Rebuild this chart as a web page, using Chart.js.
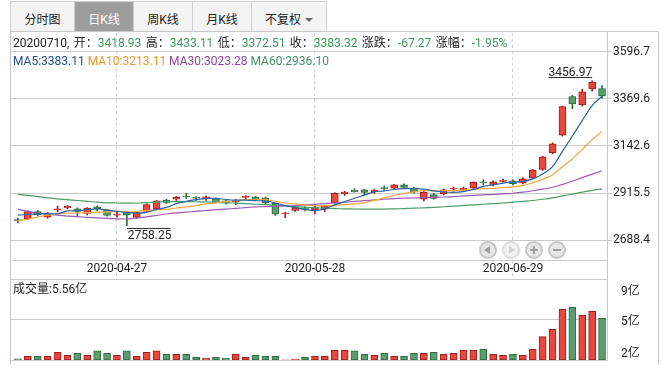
<!DOCTYPE html>
<html>
<head>
<meta charset="utf-8">
<title>上证指数 日K线</title>
<script src="https://cdn.jsdelivr.net/npm/chart.js@4.4.1/dist/chart.umd.min.js"></script>
<style>
  body { margin: 0; background: #fff; font-family: Roboto, "Noto Sans CJK SC", sans-serif; font-size: 12px; color: #222; }
  #wrap { position: relative; width: 668px; height: 377px; overflow: hidden; }
  canvas { position: absolute; left: 0; }
  .tab { position: absolute; top: 1px; height: 30px; line-height: 36px; text-align: center; background: #f4f4f4;
         border-left: 1px solid #cfcfcf; border-top: 1px solid #cfcfcf; box-sizing: border-box; color: #222; overflow: hidden; }
  .tab.on { background: #9d9d9d; color: #fff; }
  .tab.last { border-right: 1px solid #cfcfcf; }
  .caret { display: inline-block; width: 0; height: 0; margin-left: 4px; vertical-align: 2px;
           border-left: 4px solid transparent; border-right: 4px solid transparent; border-top: 4px solid #666; }
  .line { position: absolute; background: #c9c9c9; }
  .row { position: absolute; left: 13px; height: 16px; line-height: 16px; white-space: nowrap; }
  .v { color: #3d9a5e; }
  .btn { position: absolute; top: 241px; width: 18px; height: 18px; border-radius: 50%; box-sizing: border-box;
         border: 2px solid #c6c6c6; background: #e6e6e6; }
  .btn.off { border-color: #dcdcdc; background: #f2f2f2; }
  .btn i { position: absolute; display: block; }
</style>
</head>
<body>
<div id="wrap">
  <div class="tab" style="left:10px;width:64px">分时图</div>
  <div class="tab on" style="left:74px;width:59px">日K线</div>
  <div class="tab" style="left:133px;width:59px">周K线</div>
  <div class="tab" style="left:192px;width:59px">月K线</div>
  <div class="tab last" style="left:251px;width:76px">不复权<span class="caret"></span></div>

  <canvas id="priceChart" width="668" height="249" style="top:31px"></canvas>
  <canvas id="volChart" width="668" height="107" style="top:270px"></canvas>

  <div class="line" style="left:10px;top:31px;width:649px;height:1px"></div>
  <div class="line" style="left:10px;top:31px;width:1px;height:334px"></div>
  <div class="line" style="left:658px;top:31px;width:1px;height:334px"></div>
  <div class="line" style="left:607px;top:31px;width:1px;height:330px"></div>

  <div class="row" style="top:35px;word-spacing:1.4px">20200710, 开：<span class="v">3418.93</span> 高：<span class="v">3433.11</span> 低：<span class="v">3372.51</span> 收：<span class="v">3383.32</span> 涨跌：<span class="v">-67.27</span> 涨幅：<span class="v">-1.95%</span></div>
  <div class="row" style="top:53px"><span style="color:#22508a">MA5:3383.11</span> <span style="color:#e99a32">MA10:3213.11</span> <span style="color:#8a4aa0">MA30:3023.28</span> <span style="color:#3f9163">MA60:2936.10</span></div>
  <div class="row" style="top:281px">成交量:5.56亿</div>

  <div class="btn" style="left:479px"><i style="left:3px;top:3px;border-right:6px solid #9d9d9d;border-top:4px solid transparent;border-bottom:4px solid transparent"></i></div>
  <div class="btn off" style="left:502px"><i style="left:5px;top:3px;border-left:6px solid #d2d2d2;border-top:4px solid transparent;border-bottom:4px solid transparent"></i></div>
  <div class="btn" style="left:525px"><i style="left:3px;top:6px;width:8px;height:2px;background:#9d9d9d"></i><i style="left:6px;top:3px;width:2px;height:8px;background:#9d9d9d"></i></div>
  <div class="btn" style="left:548px"><i style="left:3px;top:6px;width:8px;height:2px;background:#9d9d9d"></i></div>
</div>

<script>
const dates = [
  '2020-04-13','2020-04-14','2020-04-15','2020-04-16','2020-04-17',
  '2020-04-20','2020-04-21','2020-04-22','2020-04-23','2020-04-24',
  '2020-04-27','2020-04-28','2020-04-29','2020-04-30',
  '2020-05-06','2020-05-07','2020-05-08',
  '2020-05-11','2020-05-12','2020-05-13','2020-05-14','2020-05-15',
  '2020-05-18','2020-05-19','2020-05-20','2020-05-21','2020-05-22',
  '2020-05-25','2020-05-26','2020-05-27','2020-05-28','2020-05-29',
  '2020-06-01','2020-06-02','2020-06-03','2020-06-04','2020-06-05',
  '2020-06-08','2020-06-09','2020-06-10','2020-06-11','2020-06-12',
  '2020-06-15','2020-06-16','2020-06-17','2020-06-18','2020-06-19',
  '2020-06-22','2020-06-23','2020-06-24','2020-06-29','2020-06-30',
  '2020-07-01','2020-07-02','2020-07-03',
  '2020-07-06','2020-07-07','2020-07-08','2020-07-09','2020-07-10'
];

const opens = [2788,2793,2827,2800,2835, 2845,2840,2818,2850,2835, 2810,2822,2800,2828,
  2840,2882,2886, 2900,2893,2888,2889,2878, 2873,2895,2897,2893,2866, 2815,2832,2845,2834,2838,
  2868,2912,2930,2932,2923, 2940,2940,2956,2940,2887, 2908,2912,2935,2930,2940,
  2968,2957,2972,2975,2965, 2988,3030,3110, 3195,3380,3340,3418,3418.93];
const highs = [2796,2830,2832,2822,2853, 2856,2845,2846,2855,2838, 2830,2825,2824,2864,
  2880,2886,2900, 2915,2898,2902,2892,2885, 2885,2903,2900,2896,2868, 2824,2848,2850,2862,2856,
  2918,2925,2937,2934,2935, 2950,2958,2960,2945,2925, 2915,2935,2945,2945,2970,
  2980,2975,2983,2980,2990, 3030,3093,3158, 3335,3387,3416,3456.97,3433.11];
const lows = [2772,2790,2805,2795,2825, 2840,2805,2810,2830,2805, 2800,2758.25,2795,2824,
  2836,2866,2880, 2890,2880,2880,2868,2862, 2860,2888,2880,2862,2808, 2797,2828,2830,2815,2828,
  2866,2905,2920,2905,2915, 2930,2935,2940,2915,2878, 2887,2907,2925,2925,2936,
  2955,2950,2968,2955,2960, 2985,3025,3105, 3190,3322,3335,3407,3372.51];
const closes = [2783,2827,2811,2820,2838, 2852,2827,2844,2838,2808, 2815,2810,2822,2860,
  2878,2871,2895, 2897,2891,2898,2870,2868, 2875,2898,2884,2868,2814, 2818,2846,2837,2846,2852,
  2915,2921,2923,2919,2930, 2937,2956,2943,2920,2919, 2890,2931,2936,2939,2967,
  2965,2970,2979,2961,2984.67, 3025.98,3090.57,3152.81, 3332.88,3345.34,3403.44,3450.59,3383.32];

const ma5 = [2810,2813,2816,2817,2816, 2830,2830,2836,2840,2834, 2827,2823,2819,2823,2837,
  2847,2865,2876,2884,2890, 2890,2885,2882,2882,2879, 2878,2868,2856,2846,2837,
  2832,2840,2859,2874,2891, 2906,2922,2926,2933,2937, 2937,2935,2926,2921,2919,
  2923,2933,2948,2955,2964, 2968,2972,2984,3008,3043, 3117,3190,3265,3337,3383.11];
const ma10 = [2782,2790,2800,2810,2816, 2819,2820,2822,2824,2825, 2828,2826,2827,2831,2835,
  2837,2844,2849,2855,2864, 2869,2875,2880,2884,2885, 2884,2876,2868,2864,2858,
  2855,2854,2858,2860,2864, 2869,2881,2893,2904,2914, 2922,2928,2926,2927,2928,
  2930,2934,2937,2938,2942, 2946,2952,2966,2982,3004, 3043,3081,3125,3173,3213.11];
const ma30 = [2837,2828,2820,2814,2809, 2805,2802,2799,2796,2794, 2792,2791,2795,2801,2808,
  2815,2820,2824,2828,2832, 2836,2839,2842,2846,2849, 2851,2853,2854,2856,2859,
  2862,2865,2869,2872,2876, 2879,2883,2886,2889,2891, 2892,2894,2896,2897,2899,
  2902,2905,2907,2909,2912, 2915,2920,2927,2935,2944, 2958,2973,2990,3007,3023.28];
const ma60 = [2910,2905,2899,2893,2888, 2884,2880,2876,2872,2869, 2868,2867,2868,2870,2872,
  2874,2875,2875,2874,2873, 2871,2869,2867,2865,2862, 2860,2857,2854,2851,2848,
  2845,2843,2841,2840,2839, 2839,2839,2839,2840,2841, 2843,2845,2847,2850,2853,
  2856,2859,2862,2865,2868, 2872,2876,2880,2886,2893, 2902,2911,2920,2929,2936.10];

// 成交量，单位：亿
const volumes = [1.70,1.95,1.95,1.95,2.33, 2.05,2.24,2.05,2.46,2.24, 2.05,2.46,1.95,2.33,
  2.46,2.14,2.14, 2.14,1.86,1.76,1.86,1.76, 2.14,1.86,2.05,1.95,1.95, 1.62,1.68,1.86,1.95,1.95,
  2.52,2.52,2.46,2.14,2.05, 2.24,1.95,1.95,2.24,2.24, 2.33,2.14,2.24,2.52,2.52,
  2.61,2.14,2.05,2.14,2.05, 2.61,3.82,4.52, 6.42,6.61,5.85,6.23,5.56];

const priceTicks = [2688.4, 2915.5, 3142.6, 3369.6, 3596.7];
const PRICE_MIN = 2593.5, PRICE_MAX = 3686.8;
const dateTickIndex = [10, 30, 50];
const VOL_MIN = 1.6, VOL_MAX = 9.3;
const volGridTicks = [1.6, 5.45, 9.3];
const volTickValues = [2.17, 5.21, 8.06];
const volTickLabels = ['2亿', '5亿', '9亿'];

const UP_FILL = '#e8473d', UP_EDGE = '#a11d1d';
const DOWN_FILL = '#5c9c6f', DOWN_EDGE = '#2c6b3b';
const GRID = '#c9c9c9', DASH = '#d2d2d2';

Chart.defaults.font.family = 'Roboto, "Noto Sans CJK SC", sans-serif';
Chart.defaults.font.size = 12;
Chart.defaults.color = '#222';

const isUp = closes.map((c, i) => c >= opens[i]);
const fillColors = isUp.map(u => u ? UP_FILL : DOWN_FILL);
const edgeColors = isUp.map(u => u ? UP_EDGE : DOWN_EDGE);

const fixedTicks = values => scale => { scale.ticks = values.map(v => ({ value: v })); };
const fitTo = (w, h) => scale => {
  if (w != null) scale.width = w;
  if (h != null) scale.height = h;
  scale.paddingTop = 0; scale.paddingBottom = 0;
  scale.paddingLeft = 0; scale.paddingRight = 0;
};

function maLine(label, data, color) {
  return { type: 'line', label, data, yAxisID: 'y', borderColor: color, borderWidth: 1.2,
           pointRadius: 0, tension: 0.3, order: 0 };
}

// 最高 / 最低点标注
const extremaLabels = {
  id: 'extremaLabels',
  afterDatasetsDraw(chart) {
    const { ctx, scales: { x, y } } = chart;
    const hi = highs.indexOf(Math.max(...highs));
    const lo = lows.indexOf(Math.min(...lows));
    ctx.save();
    ctx.font = '12px Roboto';
    ctx.fillStyle = '#222';
    ctx.strokeStyle = '#333';
    ctx.lineWidth = 1;

    const hx = x.getPixelForValue(hi);
    const hy = Math.round(y.getPixelForValue(highs[hi])) - 3.5;
    const hText = highs[hi].toFixed(2);
    const hw = ctx.measureText(hText).width;
    ctx.beginPath(); ctx.moveTo(hx - hw, hy); ctx.lineTo(hx, hy); ctx.stroke();
    ctx.textAlign = 'right'; ctx.textBaseline = 'alphabetic';
    ctx.fillText(hText, hx, hy - 1.5);

    const lx = x.getPixelForValue(lo);
    const ly = Math.round(y.getPixelForValue(lows[lo])) + 2.5;
    const lText = lows[lo].toFixed(2);
    const lw = ctx.measureText(lText).width;
    ctx.beginPath(); ctx.moveTo(lx, ly); ctx.lineTo(lx + lw, ly); ctx.stroke();
    ctx.textAlign = 'left'; ctx.textBaseline = 'top';
    ctx.fillText(lText, lx + 1, ly + 1);
    ctx.restore();
  }
};

new Chart(document.getElementById('priceChart'), {
  type: 'bar',
  data: {
    labels: dates,
    datasets: [
      maLine('MA5', ma5, '#2b64a0'),
      maLine('MA10', ma10, '#f0a646'),
      maLine('MA30', ma30, '#9a58b4'),
      maLine('MA60', ma60, '#4e9b6b'),
      {
        label: 'K', data: opens.map((o, i) => [o, closes[i]]), yAxisID: 'y',
        backgroundColor: fillColors, borderColor: edgeColors, borderWidth: 1, borderSkipped: false,
        barThickness: 7, minBarLength: 1, grouped: false, order: 1
      },
      {
        label: 'wick', data: lows.map((l, i) => [l, highs[i]]), yAxisID: 'y',
        backgroundColor: edgeColors, barThickness: 1, grouped: false, order: 2
      }
    ]
  },
  options: {
    responsive: false, animation: false, devicePixelRatio: 1, events: [],
    layout: { padding: { left: 10, right: 0, top: 2, bottom: 0 } },
    plugins: { legend: { display: false }, tooltip: { enabled: false } },
    scales: {
      x: {
        offset: true,
        grid: { offset: false, color: c => dateTickIndex.includes(c.index) ? DASH : 'transparent',
                tickLength: 20, tickBorderDash: [3, 3] },
        border: { color: GRID, dash: [3, 3] },
        ticks: { autoSkip: false, maxRotation: 0, padding: -18, color: '#222',
                 callback: (v, i) => dateTickIndex.includes(i) ? dates[i] : '' },
        afterFit: fitTo(null, 20)
      },
      y: {
        position: 'right', min: PRICE_MIN, max: PRICE_MAX,
        afterBuildTicks: fixedTicks(priceTicks),
        ticks: { padding: 1, color: '#222', callback: v => v.toFixed(1) },
        grid: { color: GRID, tickLength: 5 },
        border: { color: GRID },
        afterFit: fitTo(61)
      },
      yl: {
        position: 'left', min: PRICE_MIN, max: PRICE_MAX,
        afterBuildTicks: fixedTicks(priceTicks),
        ticks: { display: false },
        grid: { drawOnChartArea: false, color: GRID, tickLength: 3 },
        border: { display: false },
        afterFit: fitTo(3)
      }
    }
  },
  plugins: [extremaLabels]
});

new Chart(document.getElementById('volChart'), {
  type: 'bar',
  data: {
    labels: dates,
    datasets: [{
      label: '成交量', data: volumes.map(v => [VOL_MIN, v]), yAxisID: 'yv',
      backgroundColor: fillColors, borderColor: edgeColors, borderWidth: 1, borderSkipped: false,
      barThickness: 7
    }]
  },
  options: {
    responsive: false, animation: false, devicePixelRatio: 1, events: [],
    layout: { padding: { left: 10, right: 0, top: 9, bottom: 17 } },
    plugins: { legend: { display: false }, tooltip: { enabled: false } },
    scales: {
      x: { display: false, offset: true },
      yv: {
        position: 'left', min: VOL_MIN, max: VOL_MAX,
        afterBuildTicks: fixedTicks(volGridTicks),
        ticks: { display: false },
        grid: { color: GRID, tickLength: 3 },
        border: { display: false },
        afterFit: fitTo(3)
      },
      yr: {
        position: 'right', min: VOL_MIN, max: VOL_MAX,
        afterBuildTicks: fixedTicks(volTickValues),
        ticks: { padding: 6, color: '#222', callback: (v, i) => volTickLabels[i] },
        grid: { display: false },
        border: { color: GRID },
        afterFit: fitTo(61)
      }
    }
  }
});
</script>
</body>
</html>
